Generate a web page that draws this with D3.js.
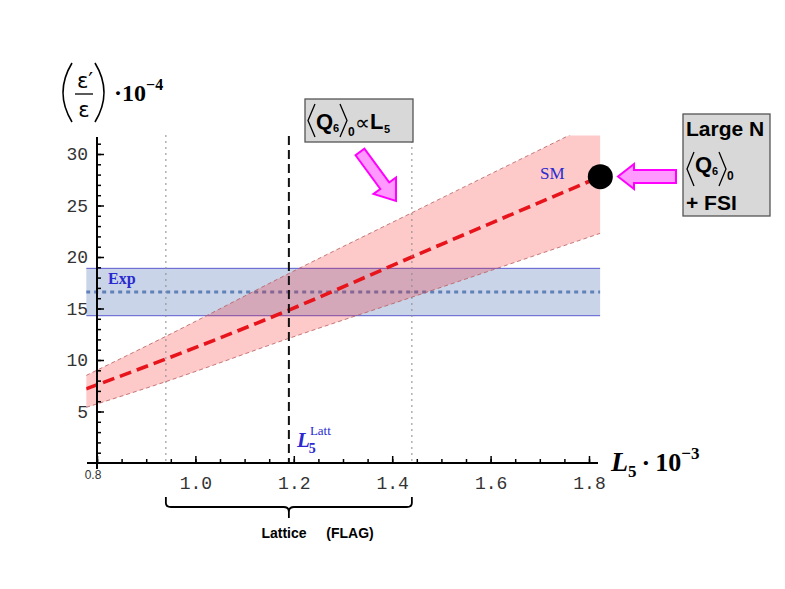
<!DOCTYPE html>
<html>
<head>
<meta charset="utf-8">
<script src="https://cdn.jsdelivr.net/npm/d3@7"></script>
<style>
  body { margin: 0; background: #fff; }
</style>
</head>
<body>
<svg id="chart" width="785" height="589" font-family="Liberation Sans, DejaVu Sans, sans-serif"></svg>
<script>
// values
const bandL5     = [0.778, 0.94, 1.19, 1.44, 1.823];
const epsCentral = [7.2, 10.1, 14.85, 20.0, 27.8];
const epsUpper   = [8.5, 12.3, 18.4, 24.3, 33.3];
const epsLower   = [5.4, 7.9, 12.1, 16.1, 22.3];
const expCentral = 16.6;
const expRange   = [14.3, 18.9];
const latticeRange = [0.94, 1.44];
const latticeL5  = 1.19;
const largeNPoint = [1.823, 27.8];
const xTickLabels = [0.8, 1.0, 1.2, 1.4, 1.6, 1.8];
const yTickLabels = [5, 10, 15, 20, 25, 30];
const plotX = [0.778, 1.823];
const plotY = [0, 31.8];

const svg = d3.select('#chart');
const serif = 'Liberation Serif, DejaVu Serif, serif';
const mono = 'Liberation Mono, DejaVu Sans Mono, monospace';

const x = d3.scaleLinear().domain([0.8, 1.8]).range([97, 589]);
const y = d3.scaleLinear().domain([0, 30]).range([463, 154]);

const band = bandL5.map((l, i) => ({l: l, c: epsCentral[i], hi: epsUpper[i], lo: epsLower[i]}));

svg.append('clipPath').attr('id', 'plotClip')
  .append('rect')
  .attr('x', x(plotX[0])).attr('y', y(plotY[1]))
  .attr('width', x(plotX[1]) - x(plotX[0]))
  .attr('height', y(plotY[0]) - y(plotY[1]));

const plot = svg.append('g').attr('clip-path', 'url(#plotClip)');

// experimental band
plot.append('rect')
  .attr('x', x(plotX[0])).attr('width', x(plotX[1]) - x(plotX[0]))
  .attr('y', y(expRange[1])).attr('height', y(expRange[0]) - y(expRange[1]))
  .attr('fill', 'rgba(60,100,175,0.28)');
expRange.forEach(v => {
  plot.append('line')
    .attr('x1', x(plotX[0])).attr('x2', x(plotX[1]))
    .attr('y1', y(v)).attr('y2', y(v))
    .attr('stroke', '#5a5ad0').attr('stroke-width', 1);
});
plot.append('line')
  .attr('x1', x(plotX[0])).attr('x2', x(plotX[1]))
  .attr('y1', y(expCentral)).attr('y2', y(expCentral))
  .attr('stroke', '#6080b8').attr('stroke-width', 3)
  .attr('stroke-dasharray', '4,4');

// lattice range lines
latticeRange.forEach(v => {
  svg.append('line')
    .attr('x1', x(v)).attr('x2', x(v))
    .attr('y1', 135).attr('y2', y(0))
    .attr('stroke', '#888').attr('stroke-width', 1)
    .attr('stroke-dasharray', '2,4');
});

// SM band
const area = d3.area()
  .x(d => x(d.l)).y0(d => y(d.lo)).y1(d => y(d.hi))
  .curve(d3.curveMonotoneX);
plot.append('path').datum(band)
  .attr('d', area)
  .attr('fill', 'rgba(245,30,30,0.24)');

['hi', 'lo'].forEach(k => {
  plot.append('path').datum(band)
    .attr('d', d3.line().x(d => x(d.l)).y(d => y(d[k])).curve(d3.curveMonotoneX))
    .attr('fill', 'none').attr('stroke', '#b85a5a')
    .attr('stroke-width', 0.8).attr('stroke-dasharray', '4,3');
});

plot.append('path').datum(band)
  .attr('d', d3.line().x(d => x(d.l)).y(d => y(d.c)).curve(d3.curveMonotoneX))
  .attr('fill', 'none').attr('stroke', '#e8141c')
  .attr('stroke-width', 3.6).attr('stroke-dasharray', '12,6');

// central lattice value
svg.append('line')
  .attr('x1', x(latticeL5)).attr('x2', x(latticeL5))
  .attr('y1', 136).attr('y2', y(0))
  .attr('stroke', '#111').attr('stroke-width', 2)
  .attr('stroke-dasharray', '9,5');

// axes
const xMinor = d3.axisBottom(x)
  .tickValues(d3.range(16, 37).map(i => i * 0.05))
  .tickSize(-4).tickFormat('');
const xMajor = d3.axisBottom(x)
  .tickValues(xTickLabels).tickSize(-7).tickPadding(13)
  .tickFormat(d => d < 0.85 ? '' : d3.format('.1f')(d));

[xMinor, xMajor].forEach(ax => {
  const g = svg.append('g').attr('transform', `translate(0,${y(0)})`).call(ax);
  g.select('.domain').remove();
  g.selectAll('line').attr('stroke', '#000').attr('stroke-width', 1.5);
  g.attr('font-family', mono).attr('font-size', 18);
  g.selectAll('text').attr('fill', '#333');
});

const yMinor = d3.axisLeft(y)
  .tickValues(d3.range(1, 32)).tickSize(-4).tickFormat('');
const yMajor = d3.axisLeft(y)
  .tickValues(yTickLabels).tickSize(-7).tickPadding(9);

[yMinor, yMajor].forEach(ax => {
  const g = svg.append('g').attr('transform', `translate(${x(0.8)},0)`).call(ax);
  g.select('.domain').remove();
  g.selectAll('line').attr('stroke', '#000').attr('stroke-width', 1.5);
  g.attr('font-family', mono).attr('font-size', 18);
  g.selectAll('text').attr('fill', '#333');
});

svg.append('line')
  .attr('x1', 87).attr('x2', 598).attr('y1', y(0)).attr('y2', y(0))
  .attr('stroke', '#000').attr('stroke-width', 2);
svg.append('line')
  .attr('x1', x(0.8)).attr('x2', x(0.8)).attr('y1', 137).attr('y2', 469)
  .attr('stroke', '#000').attr('stroke-width', 2);

svg.append('text')
  .attr('x', x(0.8) - 4).attr('y', 479).attr('text-anchor', 'middle')
  .attr('font-size', 12).attr('fill', '#333')
  .text('0.8');

// Large N point
svg.append('circle')
  .attr('cx', x(largeNPoint[0])).attr('cy', y(largeNPoint[1]))
  .attr('r', 12.5).attr('fill', '#000');

// labels in plot
svg.append('text').attr('x', 108).attr('y', 284)
  .attr('font-family', serif).attr('font-weight', 'bold')
  .attr('font-size', 16).attr('fill', '#2a2ad0').text('Exp');
svg.append('text').attr('x', 540).attr('y', 179)
  .attr('font-family', serif)
  .attr('font-size', 17).attr('fill', '#2a2ad0').text('SM');

const latt = svg.append('text').attr('x', x(latticeL5) + 8).attr('y', 447)
  .attr('font-family', serif).attr('fill', '#2a2ad0');
latt.append('tspan').attr('font-style', 'italic').attr('font-weight', 'bold').attr('font-size', 21).text('L');
latt.append('tspan').attr('font-size', 14).attr('font-weight', 'bold').attr('dy', 6).attr('dx', -1).text('5');
svg.append('text').attr('x', x(latticeL5) + 21).attr('y', 435)
  .attr('font-family', serif).attr('fill', '#2a2ad0')
  .attr('font-size', 13).text('Latt');

// axis titles
const xt = svg.append('text').attr('x', 611).attr('y', 471)
  .attr('font-family', serif).attr('font-weight', 'bold').attr('fill', '#000');
xt.append('tspan').attr('font-style', 'italic').attr('font-size', 28).text('L');
xt.append('tspan').attr('font-size', 17).attr('dy', 6).text('5');
xt.append('tspan').attr('font-size', 26).attr('dy', -6).attr('dx', 5).text('·');
xt.append('tspan').attr('font-size', 26).attr('dx', 5).text('10');
xt.append('tspan').attr('font-size', 17).attr('dy', -12).text('−3');

svg.append('path').attr('d', 'M72,63 Q54,92.5 72,122')
  .attr('fill', 'none').attr('stroke', '#000').attr('stroke-width', 1.6);
svg.append('path').attr('d', 'M95,63 Q113,92.5 95,122')
  .attr('fill', 'none').attr('stroke', '#000').attr('stroke-width', 1.6);
svg.append('text').attr('x', 85).attr('y', 88).attr('text-anchor', 'middle')
  .attr('font-family', 'DejaVu Sans, sans-serif').attr('font-size', 21).text('ε′');
svg.append('line').attr('x1', 75).attr('x2', 93).attr('y1', 94).attr('y2', 94)
  .attr('stroke', '#000').attr('stroke-width', 1.3);
svg.append('text').attr('x', 84).attr('y', 117).attr('text-anchor', 'middle')
  .attr('font-family', 'DejaVu Sans, sans-serif').attr('font-size', 21).text('ε');
const yt = svg.append('text').attr('x', 114).attr('y', 101)
  .attr('font-family', serif).attr('font-weight', 'bold');
yt.append('tspan').attr('font-size', 24).text('·10');
yt.append('tspan').attr('font-size', 16).attr('dy', -11).text('−4');

// lattice brace
const bl = x(latticeRange[0]), br = x(latticeRange[1]), bm = (bl + br) / 2;
svg.append('path')
  .attr('d', `M${bl},497 V503 Q${bl},507 ${bl + 5},507 H${bm - 5} Q${bm},507 ${bm},512 V518
              M${bm},512 Q${bm},507 ${bm + 5},507 H${br - 5} Q${br},507 ${br},503 V497`)
  .attr('fill', 'none').attr('stroke', '#000').attr('stroke-width', 1.8);
svg.append('text').attr('x', 284).attr('y', 538).attr('text-anchor', 'middle')
  .attr('font-weight', 'bold').attr('font-size', 14).text('Lattice');
svg.append('text').attr('x', 350).attr('y', 538).attr('text-anchor', 'middle')
  .attr('font-weight', 'bold').attr('font-size', 14).text('(FLAG)');

// annotation boxes
function angle(x0, y0, y1, w, open) {
  const ym = (y0 + y1) / 2;
  const d = open ? `M${x0 + w},${y0} L${x0},${ym} L${x0 + w},${y1}`
                 : `M${x0},${y0} L${x0 + w},${ym} L${x0},${y1}`;
  svg.append('path').attr('d', d).attr('fill', 'none')
    .attr('stroke', '#000').attr('stroke-width', 1.3);
}
function boldText(tx, ty, size, str) {
  svg.append('text').attr('x', tx).attr('y', ty)
    .attr('font-weight', 'bold').attr('font-size', size).text(str);
}

svg.append('rect').attr('x', 305).attr('y', 99).attr('width', 108).attr('height', 43)
  .attr('fill', '#d8d8d8').attr('stroke', '#555').attr('stroke-width', 1.3);
angle(308, 104, 137, 7, true);
boldText(316, 129, 22, 'Q');
boldText(333, 132, 11, '6');
angle(340, 104, 137, 7, false);
boldText(348, 136, 12, '0');
svg.append('text').attr('x', 355).attr('y', 130)
  .attr('font-family', 'DejaVu Sans, sans-serif').attr('font-size', 21).text('∝');
boldText(370, 129, 22, 'L');
boldText(384, 133, 11, '5');

svg.append('rect').attr('x', 683).attr('y', 114).attr('width', 87).attr('height', 102)
  .attr('fill', '#d8d8d8').attr('stroke', '#555').attr('stroke-width', 1.3);
boldText(686, 136, 21, 'Large N');
angle(687, 152, 186, 7, true);
boldText(695, 172, 22, 'Q');
boldText(712, 175, 11, '6');
angle(719, 152, 186, 7, false);
boldText(727, 180, 12, '0');
boldText(686, 210, 21, '+ FSI');

// block arrows
function blockArrow(tail, tip, shaftW, headW, headL) {
  const dx = tip[0] - tail[0], dy = tip[1] - tail[1];
  const len = Math.hypot(dx, dy);
  const ux = dx / len, uy = dy / len, nx = -uy, ny = ux;
  const bx = tip[0] - ux * headL, by = tip[1] - uy * headL;
  const pts = [
    [tail[0] + nx * shaftW / 2, tail[1] + ny * shaftW / 2],
    [bx + nx * shaftW / 2, by + ny * shaftW / 2],
    [bx + nx * headW / 2, by + ny * headW / 2],
    tip,
    [bx - nx * headW / 2, by - ny * headW / 2],
    [bx - nx * shaftW / 2, by - ny * shaftW / 2],
    [tail[0] - nx * shaftW / 2, tail[1] - ny * shaftW / 2]
  ];
  return 'M' + pts.join('L') + 'Z';
}
svg.append('path').attr('d', blockArrow([360, 152], [396, 201], 11, 28, 19))
  .attr('fill', '#ff99ff').attr('stroke', '#ff00ff').attr('stroke-width', 2);
svg.append('path').attr('d', blockArrow([676, 176.5], [618, 176.5], 13, 25, 16))
  .attr('fill', '#ff99ff').attr('stroke', '#ff00ff').attr('stroke-width', 2);
</script>
</body>
</html>
